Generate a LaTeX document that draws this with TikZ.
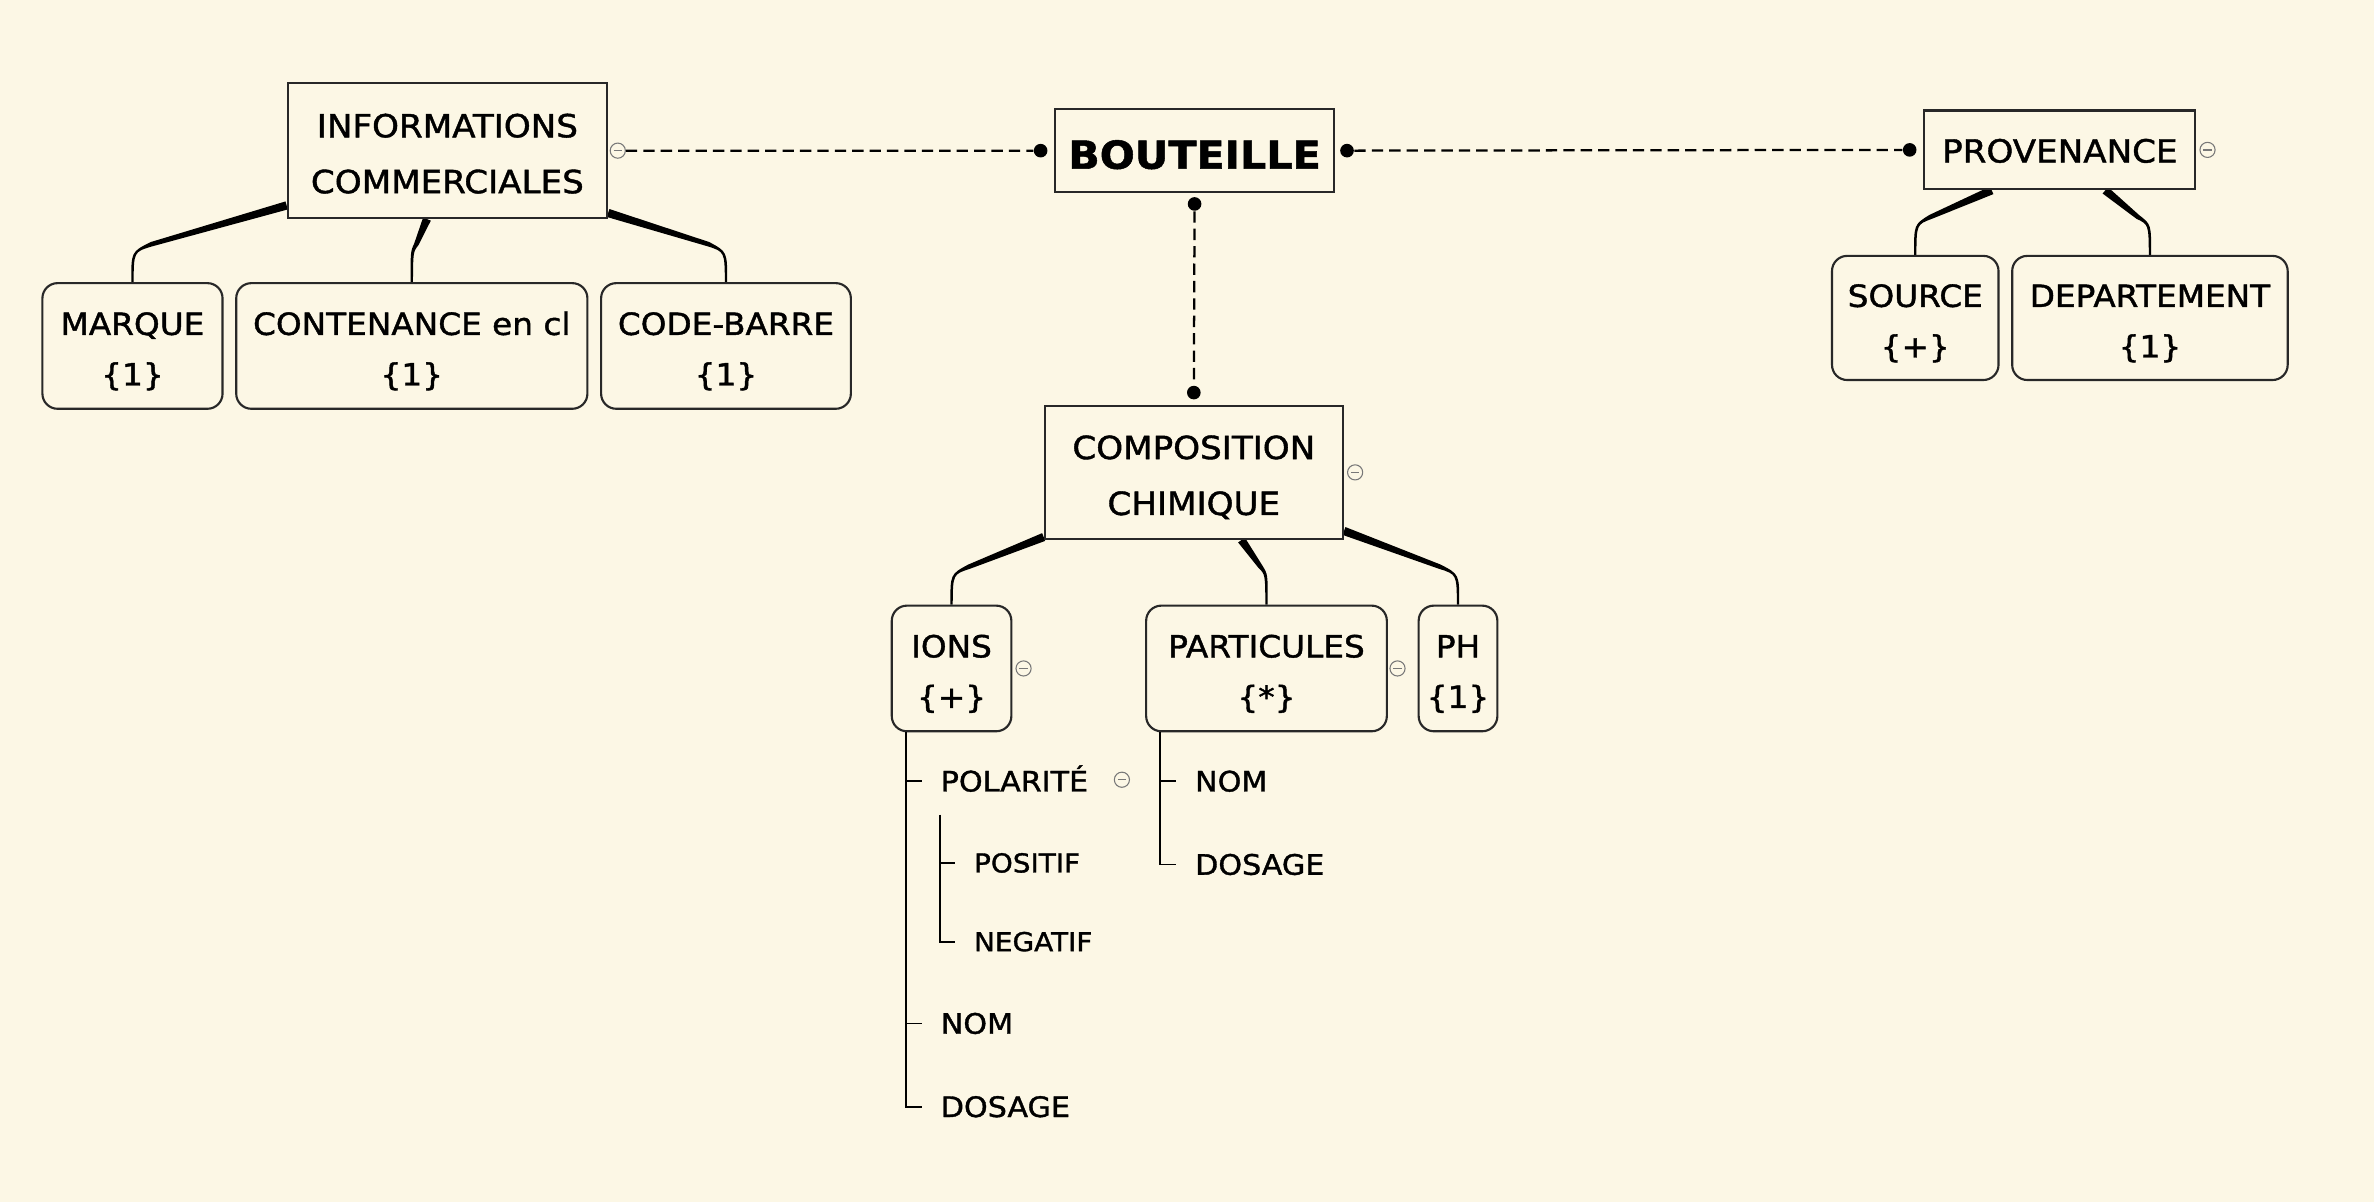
\documentclass[tikz,border=0pt]{standalone}
\usepackage{fontspec}
\setmainfont{DejaVu Sans}[FakeStretch=1.07, FakeBold=1.3]
\usepackage{xcolor}
\usetikzlibrary{calc, positioning}
\definecolor{paper}{RGB}{252,247,229}
\definecolor{frame}{RGB}{40,40,40}
\definecolor{foldgray}{RGB}{120,120,120}
\pgfdeclarelayer{background}
\pgfsetlayers{background,main}

\tikzset{
    topic/.style={draw=frame, fill=paper, line width=0.8pt, inner sep=0pt, align=center,
        text height=32pt, text depth=0pt, font=\fontsize{12}{21}\selectfont},
    single/.style={text height=9.5pt, text depth=0pt},
    centre/.style={topic, single, text height=13.6pt,
        font=\fontsize{14.5}{18}\selectfont\bfseries},
    leaf/.style={draw=frame, fill=paper, line width=0.8pt, rounded corners=0.2cm, inner sep=0pt,
        align=center, text height=29.7pt, text depth=0pt, font=\fontsize{11.5}{19}\selectfont},
    item/.style={anchor=west, inner sep=0pt, text height=7.7pt, text depth=0pt,
        font=\fontsize{10.6}{12}\selectfont},
    subitem/.style={item, text height=7.1pt, font=\fontsize{9.8}{12}\selectfont},
    fold/.style={circle, draw=foldgray, fill=paper, line width=0.4pt, minimum size=0.2cm, inner sep=0pt,
        path picture={\draw[foldgray, line width=0.5pt]
            ([xshift=-0.055cm]path picture bounding box.center) --
            ([xshift=0.055cm]path picture bounding box.center);}},
    joint/.style={circle, fill=black, minimum size=0.18cm, inner sep=0pt},
    link/.style={line width=0.85pt, dash pattern=on 0.15cm off 0.08cm},
    tree/.style={line width=0.7pt},
    branch/.style={fill=black}
}

\newcommand{\taperedge}[3]{%
    \coordinate (tP) at #1;
    \coordinate (tC) at (#2.north);
    \coordinate (tB) at ($(tC)+(#3,-25)$);
    \coordinate (tK) at ($(tC)+(0,-20)$);
    \fill[branch]
    ($(tP)!0.055cm!90:(tB)$) -- ($(tB)!0.03cm!-90:(tP)$)
    .. controls ($(tK)+(0.9,0)$) .. ($(tC)+(0.75,0)$) --
    ($(tC)+(-0.75,0)$) .. controls ($(tK)+(-0.9,0)$) ..
    ($(tB)!0.03cm!90:(tP)$) -- ($(tP)!0.055cm!-90:(tB)$) -- cycle;
}

\begin{document}
\begin{tikzpicture}[x=0.02cm, y=-0.02cm]
    \begin{pgfonlayer}{background}
        \fill[paper] (0, 0) rectangle (1568, 794);
    \end{pgfonlayer}

    \node[centre, minimum width=3.68cm, minimum height=1.1cm] (bottle) at (789, 99.5) {BOUTEILLE};
    \node[topic, minimum width=4.22cm, minimum height=1.78cm] (info) at (295.5, 99.5) {INFORMATIONS\\COMMERCIALES};
    \node[topic, single, minimum width=3.58cm, minimum height=1.04cm] (prov) at (1360.5, 99) {PROVENANCE};
    \node[topic, minimum width=3.94cm, minimum height=1.76cm] (comp) at (788.5, 312) {COMPOSITION\\CHIMIQUE};

    \node[leaf, minimum width=2.38cm, minimum height=1.66cm] (marque) at (87.5, 228.5) {MARQUE\\\{1\}};
    \node[leaf, minimum width=4.64cm, minimum height=1.66cm] (cont) at (272, 228.5) {CONTENANCE en cl\\\{1\}};
    \node[leaf, minimum width=3.30cm, minimum height=1.66cm] (code) at (479.5, 228.5) {CODE-BARRE\\\{1\}};
    \node[leaf, minimum width=2.20cm, minimum height=1.64cm] (source) at (1265, 210) {SOURCE\\\{+\}};
    \node[leaf, minimum width=3.64cm, minimum height=1.64cm] (dept) at (1420, 210) {DEPARTEMENT\\\{1\}};
    \node[leaf, minimum width=1.58cm, minimum height=1.66cm] (ions) at (628.5, 441.5) {IONS\\\{+\}};
    \node[leaf, minimum width=3.18cm, minimum height=1.66cm] (part) at (836.5, 441.5) {PARTICULES\\\{*\}};
    \node[leaf, minimum width=1.04cm, minimum height=1.66cm] (ph) at (963, 441.5) {PH\\\{1\}};

    \node[item] (ipol) at (621, 516) {POLARITÉ};
    \node[subitem] (ipos) at (643, 570) {POSITIF};
    \node[subitem] (ineg) at (643, 622) {NEGATIF};
    \node[item] (inom) at (621, 676) {NOM};
    \node[item] (idos) at (621, 731) {DOSAGE};
    \node[item] (pnom) at (789, 516) {NOM};
    \node[item] (pdos) at (789, 571) {DOSAGE};

    \node[fold, right=0.02cm of info] (finfo) {};
    \node[fold, right=0.04cm of prov] (fprov) {};
    \node[fold, right=0.04cm of comp] (fcomp) {};
    \node[fold, right=0.04cm of ions] (fions) {};
    \node[fold, right=0.02cm of part] (fpart) {};
    \node[fold] (fpol) at (741, 515) {};

    \node[joint] (jl) at ($(bottle.west)+(-9, 0)$) {};
    \node[joint] (jr) at ($(bottle.east)+(8, 0)$) {};
    \node[joint] (jd) at ($(bottle.south)+(0, 7)$) {};
    \node[joint] (ju) at ($(comp.north)+(0, -8)$) {};
    \node[joint] (jp) at ($(prov.west)+(-9, 0)$) {};

    \draw[link]
    (finfo) -- (jl)
    (jr) -- (jp)
    (jd) -- (ju);

    \begin{pgfonlayer}{background}
        \taperedge{($(info.south west)+(0, -9)$)}{marque}{12.5}
        \taperedge{($(info.south)+(-13.5, 0)$)}{cont}{3}
        \taperedge{($(info.south east)+(0, -4)$)}{code}{-11.5}
        \taperedge{($(prov.south)+(-45, 0)$)}{source}{10}
        \taperedge{($(prov.south)+(30, 0)$)}{dept}{-8}
        \taperedge{($(comp.south west)+(0, -2)$)}{ions}{11.5}
        \taperedge{($(comp.south)+(31.5, 0)$)}{part}{-4}
        \taperedge{($(comp.south east)+(0, -6)$)}{ph}{-12}
    \end{pgfonlayer}

    \coordinate (itrunk) at ($(ions.south west)+(10, 0)$);
    \coordinate (ptrunk) at ($(ipol.south west)+(0, 15)$);
    \coordinate (qtrunk) at ($(part.south west)+(10, 0)$);
    \draw[tree]
    (itrunk) |- ($(idos.west)+(-12, 0)$)
    (itrunk |- ipol.west) -- ($(ipol.west)+(-12, 0)$)
    (itrunk |- inom.west) -- ($(inom.west)+(-12, 0)$)
    (ptrunk) |- ($(ineg.west)+(-12, 0)$)
    (ptrunk |- ipos.west) -- ($(ipos.west)+(-12, 0)$)
    (qtrunk) |- ($(pdos.west)+(-12, 0)$)
    (qtrunk |- pnom.west) -- ($(pnom.west)+(-12, 0)$);
\end{tikzpicture}
\end{document}
